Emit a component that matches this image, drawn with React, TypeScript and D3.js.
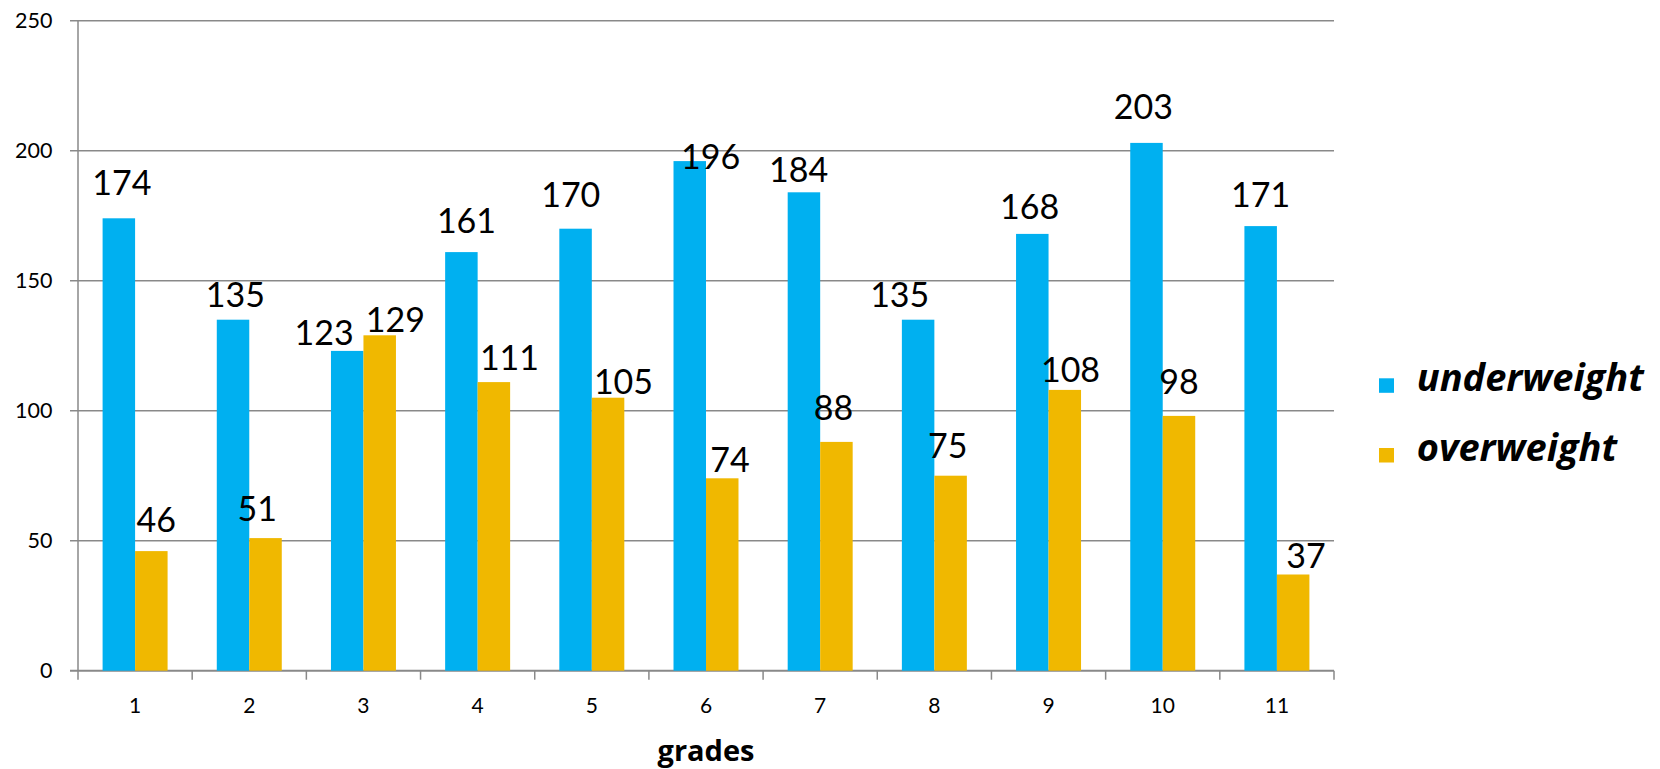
import React from "react";
import * as d3 from "d3";

const grades = ["1", "2", "3", "4", "5", "6", "7", "8", "9", "10", "11"];
const underweight = [174, 135, 123, 161, 170, 196, 184, 135, 168, 203, 171];
const overweight = [46, 51, 129, 111, 105, 74, 88, 75, 108, 98, 37];
const yTicks = [0, 50, 100, 150, 200, 250];
const seriesNames = ["underweight", "overweight"];
const seriesColors = ["#00B0F0", "#F0B800"];

// manual label nudges (dx from bar centre, baseline offset from bar top)
const underLabelDx = [3, 2.3, -23, 5.1, -4.8, 20.8, -5.4, -18.4, -2.6, -3.1, 0];
const underLabelGap = [-23, -12.5, -6, -19.4, -21.4, 7.9, -10, -12.4, -14.6, -23.6, -18.8];
const overLabelDx = [4.8, -8.2, 15.6, 15.6, 15.4, 7.8, -2.9, -2.9, 5.7, 0, 12.8];
const overLabelGap = [-19.4, -17.4, -3.6, -12.1, -3.4, -6.6, -21.9, -17.4, -7.6, -21.9, -6.2];

const W = 1660;
const H = 769;
const left = 78;
const right = 1334;
const top = 20.7;
const bottom = 670.7;
const font = "Lato, 'Open Sans', sans-serif";
const boldFont = "'Open Sans', Lato, sans-serif";
const gridColor = "#898989";

export default function App() {
  const x0 = d3.scaleBand<string>().domain(grades).range([left, right]).padding(0);
  const x1 = d3
    .scaleBand<string>()
    .domain(seriesNames)
    .range([0, x0.bandwidth()])
    .paddingInner(0)
    .paddingOuter(0.757);
  const y = d3.scaleLinear().domain([0, 250]).range([bottom, top]);

  const series = [
    { name: seriesNames[0], values: underweight, dx: underLabelDx, gap: underLabelGap, color: seriesColors[0] },
    { name: seriesNames[1], values: overweight, dx: overLabelDx, gap: overLabelGap, color: seriesColors[1] },
  ];

  return (
    <svg
      width={W}
      height={H}
      style={{ position: "absolute", left: 0, top: 0, background: "#fff" }}
      fontFamily={font}
    >
      {/* gridlines */}
      {yTicks.map((t) => (
        <g key={"g" + t}>
          <line
            x1={left - 8}
            x2={right}
            y1={y(t)}
            y2={y(t)}
            stroke={gridColor}
            strokeWidth={t === 0 ? 2 : 1.5}
          />
          <text x={52.5} y={y(t) + 7.6} fontSize={21.5} textAnchor="end" fill="#000">
            {t}
          </text>
        </g>
      ))}
      {/* y axis */}
      <line x1={left} x2={left} y1={top} y2={bottom + 9} stroke={gridColor} strokeWidth={1.5} />
      {/* x ticks */}
      {grades.map((g) => (
        <line
          key={"t" + g}
          x1={(x0(g) as number) + x0.bandwidth()}
          x2={(x0(g) as number) + x0.bandwidth()}
          y1={bottom}
          y2={bottom + 9}
          stroke={gridColor}
          strokeWidth={1.5}
        />
      ))}
      {/* bars */}
      {series.map((s) =>
        grades.map((g, i) => (
          <rect
            key={s.name + g}
            x={(x0(g) as number) + (x1(s.name) as number)}
            y={y(s.values[i])}
            width={x1.bandwidth()}
            height={bottom - y(s.values[i])}
            fill={s.color}
          />
        ))
      )}
      {/* data labels */}
      {series.map((s) =>
        grades.map((g, i) => (
          <text
            key={"l" + s.name + g}
            x={(x0(g) as number) + (x1(s.name) as number) + x1.bandwidth() / 2 + s.dx[i]}
            y={y(s.values[i]) + s.gap[i]}
            fontSize={34}
            textAnchor="middle"
            fill="#000"
          >
            {s.values[i]}
          </text>
        ))
      )}
      {/* x labels */}
      {grades.map((g) => (
        <text
          key={"x" + g}
          x={(x0(g) as number) + x0.bandwidth() / 2}
          y={713.3}
          fontSize={21}
          textAnchor="middle"
          fill="#000"
        >
          {g}
        </text>
      ))}
      <text
        x={(left + right) / 2}
        y={761}
        fontSize={29}
        fontWeight="bold"
        textAnchor="middle"
        fill="#000"
        fontFamily={boldFont}
      >
        grades
      </text>
      {/* legend */}
      {series.map((s, i) => (
        <g key={"leg" + s.name}>
          <rect x={1379} y={378.3 + i * 69.7} width={15} height={14.5} fill={s.color} />
          <text
            x={1416.7}
            y={390.7 + i * 70}
            fontSize={38}
            fontWeight="bold"
            fontStyle="italic"
            fill="#000"
            fontFamily={boldFont}
          >
            {s.name}
          </text>
        </g>
      ))}
    </svg>
  );
}
